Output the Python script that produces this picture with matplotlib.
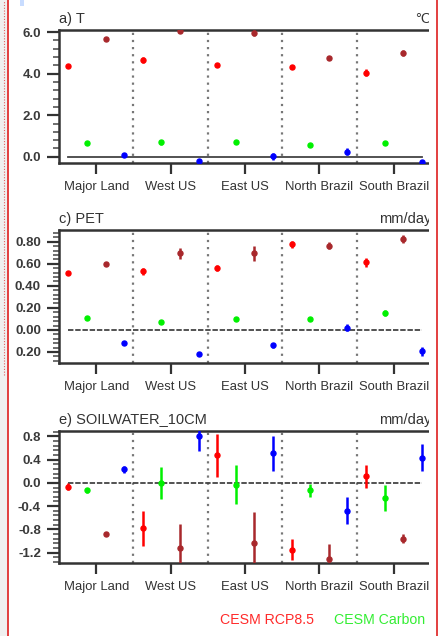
import matplotlib
matplotlib.use("Agg")
import matplotlib.pyplot as plt
from matplotlib.patches import Rectangle
from matplotlib.lines import Line2D
from matplotlib.ticker import MultipleLocator

plt.rcParams['font.family'] = ['Liberation Sans', 'DejaVu Sans']

regions = ["Major Land", "West US", "East US", "North Brazil", "South Brazil"]
series_colors = ["#ff0000", "#00f000", "#a8282c", "#0000ff"]
legend_labels = ["CESM RCP8.5", "CESM Carbon"]
legend_colors = ["#ff2a2a", "#33ee33"]

# Panel a) T  (per series: values for each region)
t_vals = [[4.38, 4.66, 4.42, 4.33, 4.05],
          [0.64, 0.69, 0.70, 0.56, 0.67],
          [5.65, 6.05, 5.95, 4.75, 5.00],
          [0.10, -0.22, 0.02, 0.25, -0.25]]
t_err = [[0.06, 0.16, 0.10, 0.10, 0.16],
         [0.05, 0.10, 0.10, 0.06, 0.10],
         [0.05, 0.08, 0.14, 0.10, 0.16],
         [0.08, 0.10, 0.16, 0.16, 0.08]]

# Panel c) PET
pet_vals = [[0.52, 0.53, 0.56, 0.776, 0.615],
            [0.11, 0.075, 0.10, 0.10, 0.155],
            [0.60, 0.695, 0.695, 0.765, 0.825],
            [-0.115, -0.22, -0.14, 0.02, -0.195]]
pet_err = [[0.01, 0.03, 0.03, 0.03, 0.04],
           [0.01, 0.015, 0.02, 0.01, 0.03],
           [0.01, 0.05, 0.07, 0.03, 0.04],
           [0.01, 0.02, 0.025, 0.03, 0.04]]

# Panel e) SOILWATER_10CM
sw_vals = [[-0.07, -0.78, 0.47, -1.15, 0.11],
           [-0.13, 0.00, -0.03, -0.13, -0.26],
           [-0.88, -1.12, -1.03, -1.31, -0.96],
           [0.23, 0.81, 0.51, -0.48, 0.43]]
sw_err = [[0.06, 0.30, 0.37, 0.18, 0.19],
          [0.05, 0.27, 0.33, 0.11, 0.23],
          [0.04, 0.41, 0.53, 0.26, 0.08],
          [0.06, 0.27, 0.30, 0.23, 0.23]]

panels = [
    dict(title="a) T", unit="\u00b0C", vals=t_vals, err=t_err, ylim=(-0.3, 6.1),
         ticks=[0, 2, 4, 6], labels=["0.0", "2.0", "4.0", "6.0"], minor=0.4,
         zero_ls="-", rect=(30, 163)),
    dict(title="c) PET", unit="mm/day", vals=pet_vals, err=pet_err, ylim=(-0.30, 0.906),
         ticks=[-0.2, 0, 0.2, 0.4, 0.6, 0.8],
         labels=["0.20", "0.00", "0.20", "0.40", "0.60", "0.80"], minor=0.04,
         zero_ls="--", rect=(230, 363)),
    dict(title="e) SOILWATER_10CM", unit="mm/day", vals=sw_vals, err=sw_err, ylim=(-1.376, 0.89),
         ticks=[-1.2, -0.8, -0.4, 0.0, 0.4, 0.8],
         labels=["-1.2", "-0.8", "-0.4", "0.0", "0.4", "0.8"], minor=0.08,
         zero_ls="--", rect=(431, 563)),
]

W, H = 438, 636
fig = plt.figure(figsize=(W / 100, H / 100), dpi=100)
fig.patch.set_facecolor("white")

left_px, right_px = 59, 431
txt_col = "#333333"
n_groups = len(regions)
n_series = len(series_colors)

for p in panels:
    top, bot = p["rect"]
    ax = fig.add_axes([left_px / W, 1 - bot / H, (right_px - left_px) / W, (bot - top) / H])
    for k in range(n_series):
        xs = [g + (k + 0.5) / n_series for g in range(n_groups)]
        ax.errorbar(xs, p["vals"][k], yerr=p["err"][k], fmt="o", color=series_colors[k],
                    ms=3.6, elinewidth=1.8, capsize=0, zorder=3)
    ax.plot([0.5 / n_series, n_groups - 0.5 / n_series], [0, 0], color="#444444",
            lw=1.3, ls=p["zero_ls"], dashes=(3, 1) if p["zero_ls"] == "--" else (None, None), zorder=2)
    for g in range(1, n_groups):
        ax.axvline(g, color="#777777", lw=1.6, ls=(0, (1, 2.2)), zorder=1)
    ax.set_xlim(0, n_groups)
    ax.set_ylim(*p["ylim"])
    ax.set_xticks([g + 0.5 for g in range(n_groups)])
    ax.set_xticklabels(regions, fontsize=9.4, color=txt_col)
    ax.set_yticks(p["ticks"])
    ax.set_yticklabels(p["labels"], fontsize=9.5, color="#3a3a3a", fontweight="bold")
    ax.yaxis.set_minor_locator(MultipleLocator(p["minor"]))
    ax.tick_params(axis="x", direction="out", length=8, width=1.6, pad=5, color="#333333")
    ax.tick_params(axis="y", which="major", direction="out", length=9, width=1.6, pad=4, color="#333333")
    ax.tick_params(axis="y", which="minor", direction="out", length=4, width=1.2, color="#555555")
    for s in ax.spines.values():
        s.set_linewidth(1.8)
        s.set_color("#333333")
    ax.text(0, 1.03, p["title"], transform=ax.transAxes, ha="left", va="bottom",
            fontsize=10.5, color=txt_col)
    ax.text(1.0, 1.03, p["unit"], transform=ax.transAxes, ha="right", va="bottom",
            fontsize=10.5, color=txt_col)

# legend texts
fig.text(220 / W, 1 - 620 / H, legend_labels[0], color=legend_colors[0], fontsize=10.2,
         ha="left", va="center")
fig.text(334 / W, 1 - 620 / H, legend_labels[1], color=legend_colors[1], fontsize=10.2,
         ha="left", va="center")

# cropping frame decorations
fig.add_artist(Rectangle((429 / W, 0), 7 / W, 1, transform=fig.transFigure,
                         facecolor="white", edgecolor="none", zorder=10))
fig.add_artist(Rectangle((0, 0), 7.5 / W, 1, transform=fig.transFigure,
                         facecolor="#f0f0f0", edgecolor="none", zorder=10))
fig.add_artist(Line2D([8.3 / W, 8.3 / W], [0, 1], transform=fig.transFigure,
                      color="#e03030", lw=1.3, zorder=11))
fig.add_artist(Line2D([4.2 / W, 4.2 / W], [1 - 375 / H, 1], transform=fig.transFigure,
                      color="#e06060", lw=0.8, ls=(0, (1, 1.5)), zorder=11))
fig.add_artist(Line2D([436.8 / W, 436.8 / W], [0, 1], transform=fig.transFigure,
                      color="#e03030", lw=1.3, zorder=11))
fig.add_artist(Rectangle((20 / W, 1 - 6 / H), 4 / W, 6 / H, transform=fig.transFigure,
                         facecolor="#c8dcff", edgecolor="none", zorder=11))

fig.savefig("out.png", dpi=100)
